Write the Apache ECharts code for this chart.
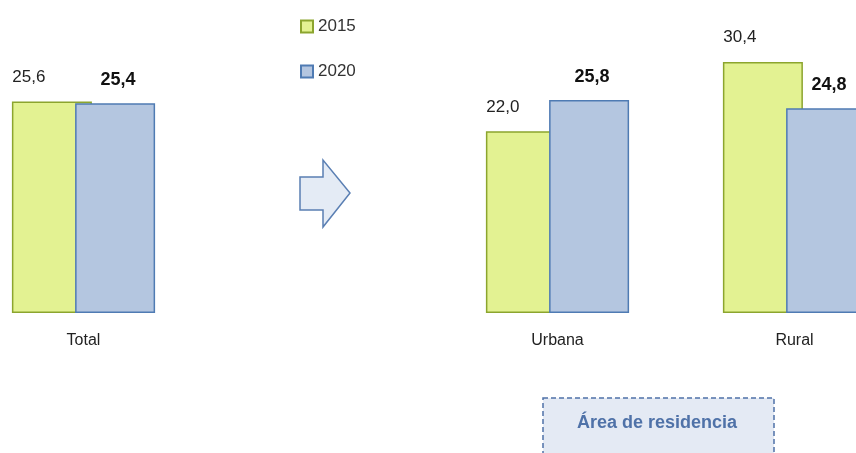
<!DOCTYPE html>
<html>
<head>
<meta charset="utf-8">
<script src="https://cdn.jsdelivr.net/npm/echarts@6/dist/echarts.min.js"></script>
<style>
  html, body { margin: 0; padding: 0; background: #fff; }
  #chart { width: 856px; height: 453px; }
</style>
</head>
<body>
<div id="chart"></div>
<script>
// categories, the empty slot keeps the gap where the arrow sits
const categories = ["Total", "", "Urbana", "Rural"];
const values2015 = [25.6, null, 22.0, 30.4];
const values2020 = [25.4, null, 25.8, 24.8];
const seriesNames = ["2015", "2020"];

const fmt = p => p.value == null ? "" : p.value.toFixed(1).replace(".", ",");

var myChart = echarts.init(document.getElementById("chart"));
var option = {
  animation: false,
  textStyle: { fontFamily: "Liberation Sans, Arial, sans-serif" },
  grid: { left: -35, width: 948, top: 24, bottom: 140, outerBoundsMode: "none", containLabel: false },
  legend: {
    orient: "vertical",
    left: 300,
    top: 18,
    padding: 0,
    itemWidth: 12,
    itemHeight: 12,
    itemGap: 28,
    icon: "rect",
    textStyle: { fontSize: 17, color: "#333" },
    data: seriesNames
  },
  xAxis: {
    type: "category",
    data: categories,
    axisLine: { show: false },
    axisTick: { show: false },
    axisLabel: { fontSize: 16, color: "#222", margin: 20 }
  },
  yAxis: {
    type: "value",
    min: 0,
    max: 35,
    show: false,
    splitLine: { show: false }
  },
  series: [
    {
      name: seriesNames[0],
      type: "bar",
      data: values2015,
      barWidth: 80,
      barGap: "-21%",
      itemStyle: { color: "#e3f292", borderColor: "#8ca52e", borderWidth: 1.5 },
      label: {
        show: true,
        position: "top",
        distance: 16,
        offset: [-23, 0],
        fontSize: 17,
        color: "#222",
        formatter: fmt
      }
    },
    {
      name: seriesNames[1],
      type: "bar",
      data: values2020,
      barWidth: 80,
      itemStyle: { color: "#b4c6e0", borderColor: "#4f7bb3", borderWidth: 1.5 },
      label: {
        show: true,
        position: "top",
        distance: 14,
        offset: [3, 0],
        fontSize: 18,
        fontWeight: "bold",
        color: "#111",
        formatter: fmt
      }
    }
  ],
  graphic: [
    {
      type: "polygon",
      shape: {
        points: [[300, 177], [323, 177], [323, 160], [350, 193], [323, 227], [323, 210], [300, 210]]
      },
      style: { fill: "#e4ebf5", stroke: "#5a7fb3", lineWidth: 1.5 }
    },
    {
      type: "rect",
      shape: { x: 543, y: 398, width: 231, height: 62 },
      style: { fill: "#e4eaf4", stroke: "#4f72a8", lineWidth: 1.5, lineDash: [5, 3] }
    },
    {
      type: "text",
      left: 577,
      top: 414,
      style: {
        text: "Área de residencia",
        font: "bold 18px Liberation Sans, Arial, sans-serif",
        fill: "#4f72a8"
      }
    }
  ]
};
myChart.setOption(option);
</script>
</body>
</html>
